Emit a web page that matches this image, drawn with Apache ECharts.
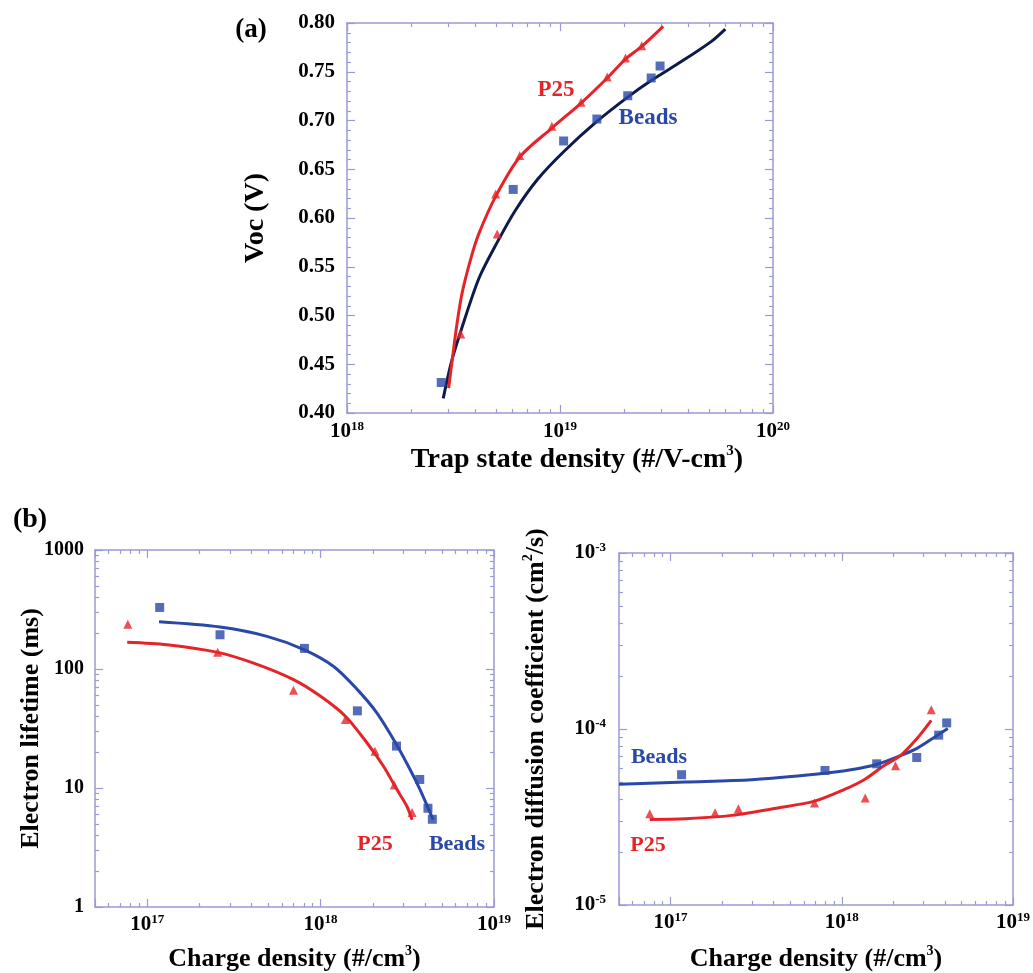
<!DOCTYPE html>
<html><head><meta charset="utf-8">
<script src="https://cdn.jsdelivr.net/npm/echarts@6/dist/echarts.min.js"></script>
<style>html,body{margin:0;padding:0;background:#fff}#c{width:1033px;height:973px}</style>
</head><body><div id="c"></div>
<script>
// ---------- (a) Voc vs trap state density ----------
const aTrapTickExp = [18, 19, 20];
const aVocTicks = [0.40, 0.45, 0.50, 0.55, 0.60, 0.65, 0.70, 0.75, 0.80];
const aP25Density = [3.42e18, 5.07e18, 4.99e18, 6.47e18, 9.16e18, 1.256e19, 1.667e19, 2.03e19, 2.42e19];
const aP25Voc = [0.481, 0.5835, 0.6246, 0.664, 0.694, 0.7186, 0.7446, 0.764, 0.7767];
const aP25FitDensity = [3.0e18, 3.12e18, 3.27e18, 3.47e18, 3.84e18, 4.16e18, 4.99e18, 6.47e18, 9.16e18, 1.256e19, 1.667e19, 2.03e19, 2.42e19, 3.05e19];
const aP25FitVoc = [0.4255, 0.4546, 0.4888, 0.523, 0.5606, 0.584, 0.6222, 0.6625, 0.6923, 0.7179, 0.7436, 0.763, 0.776, 0.7966];
const aBeadsDensity = [2.77e18, 6.03e18, 1.04e19, 1.49e19, 2.08e19, 2.68e19, 2.95e19];
const aBeadsVoc = [0.4313, 0.6293, 0.679, 0.7015, 0.7254, 0.7436, 0.7559];
const aBeadsFitDensity = [2.83e18, 3.08e18, 3.40e18, 4.16e18, 5.07e18, 6.20e18, 7.87e18, 1.04e19, 1.49e19, 2.08e19, 2.68e19, 3.73e19, 5.14e19, 5.97e19];
const aBeadsFitVoc = [0.415, 0.451, 0.482, 0.538, 0.575, 0.6085, 0.640, 0.668, 0.699, 0.724, 0.741, 0.7607, 0.7812, 0.7938];

// ---------- (b) left: electron lifetime vs charge density ----------
const bChargeTickExp = [17, 18, 19];
const bLifetimeTicks = [1, 10, 100, 1000];
const bBeadsCharge = [1.18e17, 2.63e17, 8.07e17, 1.63e18, 2.74e18, 3.73e18, 4.16e18, 4.41e18];
const bBeadsLifetime = [329, 194, 149, 44.5, 22.5, 11.8, 6.76, 5.46];
const bP25Charge = [7.73e16, 2.55e17, 6.98e17, 1.39e18, 2.06e18, 2.66e18, 3.37e18];
const bP25Lifetime = [238, 138, 66.2, 37.6, 20.4, 10.6, 6.21];
const bP25FitCharge = [7.67e16, 1.30e17, 2.55e17, 4.11e17, 6.98e17, 1.0e18, 1.39e18, 1.85e18, 2.30e18, 2.75e18, 3.14e18, 3.37e18];
const bP25FitLifetime = [168, 160, 138, 112, 81.5, 59, 40.1, 24.0, 15.3, 9.75, 7.06, 5.40];
const bBeadsFitCharge = [1.17e17, 2.63e17, 4.91e17, 8.07e17, 1.19e18, 1.63e18, 2.11e18, 2.74e18, 3.28e18, 3.74e18, 4.16e18, 4.46e18];
const bBeadsFitLifetime = [249, 225, 188, 145, 105, 67.1, 42.8, 23.2, 14.3, 9.75, 6.84, 5.40];

// ---------- (b) right: diffusion coefficient vs charge density ----------
const cDiffTickExp = [-5, -4, -3];
const cBeadsCharge = [1.16e17, 7.98e17, 1.60e18, 2.74e18, 3.68e18, 4.10e18];
const cBeadsDiff = [5.50e-5, 5.81e-5, 6.34e-5, 6.89e-5, 9.23e-5, 1.083e-4];
const cP25Charge = [7.56e16, 1.82e17, 2.49e17, 6.93e17, 1.37e18, 2.06e18, 3.33e18];
const cP25Diff = [3.30e-5, 3.34e-5, 3.52e-5, 3.80e-5, 4.06e-5, 6.18e-5, 1.288e-4];
const cP25FitCharge = [7.56e16, 1.22e17, 2.28e17, 4.24e17, 6.93e17, 1.03e18, 1.35e18, 1.76e18, 2.20e18, 2.75e18, 3.33e18];
const cP25FitDiff = [3.06e-5, 3.09e-5, 3.23e-5, 3.56e-5, 3.89e-5, 4.52e-5, 5.15e-5, 6.18e-5, 7.06e-5, 8.83e-5, 1.12e-4];
const cBeadsFitCharge = [5e16, 1.22e17, 2.97e17, 7.24e17, 1.13e18, 1.61e18, 2.20e18, 2.75e18, 3.59e18, 4.16e18];
const cBeadsFitDiff = [4.86e-5, 5.00e-5, 5.15e-5, 5.55e-5, 5.87e-5, 6.31e-5, 7.06e-5, 7.76e-5, 9.16e-5, 1.007e-4];

// ---------- styling ----------
const AX = '#9a9ad4';
const FONT = '"Liberation Serif", "Times New Roman", serif';
const RED = '#e5242a';
const BLUE = '#2a48a6';
const NAVY = '#0d1b4b';

const tickRich = {
  b: { fontFamily: FONT, fontWeight: 'bold', fontSize: 21, color: '#000', lineHeight: 24 },
  s: { fontFamily: FONT, fontWeight: 'bold', fontSize: 13, color: '#000', verticalAlign: 'top', lineHeight: 13 }
};
function nameRich(fs) {
  return {
    t: { fontFamily: FONT, fontWeight: 'bold', fontSize: fs, color: '#000', lineHeight: fs + 4 },
    s: { fontFamily: FONT, fontWeight: 'bold', fontSize: Math.round(fs * 0.55), color: '#000', verticalAlign: 'top', lineHeight: Math.round(fs * 0.55) }
  };
}
function exactExp(v) {
  const l = Math.log10(v), e = Math.round(l);
  return Math.abs(l - e) < 1e-6 ? e : null;
}
function powFmt(allowed) {
  return v => { const e = exactExp(v); return (e !== null && allowed.includes(e)) ? '{b|10}{s|' + e + '}' : ''; };
}
function minorLogValues(lo, hi) {
  const out = [];
  for (let n = Math.floor(lo); n < Math.ceil(hi); n++) {
    for (let k = 2; k <= 9; k++) {
      const v = n + Math.log10(k);
      if (v > lo + 1e-9 && v < hi - 1e-9) out.push(v);
    }
  }
  return out;
}
const lineStyleAx = { color: AX, width: 1.5 };
function logMain(kind, grid, pos, min, max, label) {
  const ax = {
    type: 'log', logBase: 10, gridIndex: grid, position: pos, min: min, max: max,
    axisLine: { show: true, onZero: false, lineStyle: lineStyleAx },
    axisTick: { show: true, inside: true, length: 8, lineStyle: { color: AX, width: 1.2 } },
    minorTick: { show: false },
    splitLine: { show: false },
    axisLabel: { show: false },
    nameMoveOverlap: false
  };
  if (label) Object.assign(ax, label);
  return ax;
}
function logMinor(grid, pos, min, max) {
  const lo = Math.log10(min), hi = Math.log10(max);
  return {
    type: 'value', gridIndex: grid, position: pos, min: lo, max: hi, silent: true,
    axisLine: { show: false, onZero: false },
    axisTick: { show: true, inside: true, length: 4, customValues: minorLogValues(lo, hi), lineStyle: { color: AX, width: 1.2 } },
    splitLine: { show: false },
    axisLabel: { show: false }
  };
}
function pairs(xs, ys) { return xs.map((x, i) => [x, ys[i]]); }

const xAxes = [], yAxes = [];
// grid 0: (a)
const A_XMIN = 1e18, A_XMAX = 1e20;
xAxes.push(logMain('x', 0, 'bottom', A_XMIN, A_XMAX, {
  axisLabel: { show: true, margin: 7, formatter: powFmt(aTrapTickExp), rich: tickRich },
  name: '{t|Trap state density (#/V-cm}{s|3}{t|)}', nameLocation: 'middle', nameGap: 31,
  nameTextStyle: { rich: nameRich(28), padding: [0, 0, 0, 34] }
}));
xAxes.push(logMinor(0, 'bottom', A_XMIN, A_XMAX));
xAxes.push(logMain('x', 0, 'top', A_XMIN, A_XMAX));
xAxes.push(logMinor(0, 'top', A_XMIN, A_XMAX));
function vocAxis(pos, withLabel) {
  return {
    type: 'value', gridIndex: 0, position: pos, min: 0.4, max: 0.8, interval: 0.05,
    axisLine: { show: true, onZero: false, lineStyle: lineStyleAx },
    axisTick: { show: true, inside: true, length: 8, lineStyle: { color: AX, width: 1.2 } },
    minorTick: { show: true, splitNumber: 5, length: 4, lineStyle: { color: AX, width: 1.2 } },
    splitLine: { show: false },
    axisLabel: withLabel ? {
      show: true, margin: 12, fontFamily: FONT, fontWeight: 'bold', fontSize: 21, color: '#000',
      formatter: v => aVocTicks.some(t => Math.abs(t - v) < 1e-9) ? v.toFixed(2) : ''
    } : { show: false },
    name: withLabel ? 'Voc (V)' : '', nameLocation: 'middle', nameGap: 76, nameMoveOverlap: false,
    nameTextStyle: { fontFamily: FONT, fontWeight: 'bold', fontSize: 28, color: '#000', lineHeight: 30 }
  };
}
yAxes.push(vocAxis('left', true));
yAxes.push(vocAxis('right', false));

// grid 1: (b) left
const B_XMIN = 5e16, B_XMAX = 1e19, B_YMIN = 1, B_YMAX = 1000;
xAxes.push(logMain('x', 1, 'bottom', B_XMIN, B_XMAX, {
  axisLabel: { show: true, margin: 6, formatter: powFmt(bChargeTickExp), rich: tickRich },
  name: '{t|Charge density (#/cm}{s|3}{t|)}', nameLocation: 'middle', nameGap: 37,
  nameTextStyle: { rich: nameRich(26) }
}));
xAxes.push(logMinor(1, 'bottom', B_XMIN, B_XMAX));
xAxes.push(logMain('x', 1, 'top', B_XMIN, B_XMAX));
xAxes.push(logMinor(1, 'top', B_XMIN, B_XMAX));
yAxes.push(logMain('y', 1, 'left', B_YMIN, B_YMAX, {
  axisLabel: { show: true, margin: 11, fontFamily: FONT, fontWeight: 'bold', fontSize: 20, color: '#000',
    formatter: v => { const e = exactExp(v); return (e !== null && bLifetimeTicks.includes(Math.pow(10, e))) ? String(Math.pow(10, e)) : ''; } },
  name: 'Electron lifetime (ms)', nameLocation: 'middle', nameGap: 49,
  nameTextStyle: { fontFamily: FONT, fontWeight: 'bold', fontSize: 26, color: '#000', lineHeight: 30 }
}));
yAxes.push(logMinor(1, 'left', B_YMIN, B_YMAX));
yAxes.push(logMain('y', 1, 'right', B_YMIN, B_YMAX));
yAxes.push(logMinor(1, 'right', B_YMIN, B_YMAX));

// grid 2: (b) right
const C_XMIN = 5e16, C_XMAX = 1e19, C_YMIN = 1e-5, C_YMAX = 1e-3;
xAxes.push(logMain('x', 2, 'bottom', C_XMIN, C_XMAX, {
  axisLabel: { show: true, margin: 6, formatter: powFmt(bChargeTickExp), rich: tickRich },
  name: '{t|Charge density (#/cm}{s|3}{t|)}', nameLocation: 'middle', nameGap: 39,
  nameTextStyle: { rich: nameRich(26) }
}));
xAxes.push(logMinor(2, 'bottom', C_XMIN, C_XMAX));
xAxes.push(logMain('x', 2, 'top', C_XMIN, C_XMAX));
xAxes.push(logMinor(2, 'top', C_XMIN, C_XMAX));
yAxes.push(logMain('y', 2, 'left', C_YMIN, C_YMAX, {
  axisLabel: { show: true, margin: 13, formatter: powFmt(cDiffTickExp), rich: tickRich },
  name: '{t|Electron diffusion coefficient (cm}{s|2}{t|/s)}', nameLocation: 'middle', nameGap: 68,
  nameTextStyle: { rich: nameRich(26) }
}));
yAxes.push(logMinor(2, 'left', C_YMIN, C_YMAX));
yAxes.push(logMain('y', 2, 'right', C_YMIN, C_YMAX));
yAxes.push(logMinor(2, 'right', C_YMIN, C_YMAX));

function fit(xi, yi, xs, ys, color) {
  return { type: 'line', xAxisIndex: xi, yAxisIndex: yi, data: pairs(xs, ys), smooth: 0.3,
    symbol: 'none', lineStyle: { color: color, width: 3 }, silent: true, z: 2 };
}
function pts(xi, yi, xs, ys, color, symbol, size) {
  return { type: 'scatter', xAxisIndex: xi, yAxisIndex: yi, data: pairs(xs, ys),
    symbol: symbol, symbolSize: size, itemStyle: { color: color }, silent: true, z: 3 };
}

const txt = (text, x, y, color, size) => ({
  type: 'text', x: x, y: y,
  style: { text: text, fill: color, font: 'bold ' + size + 'px ' + FONT, align: 'center', verticalAlign: 'middle' }
});

const option = {
  animation: false,
  backgroundColor: '#fff',
  grid: [
    { left: 347, top: 23, width: 426, height: 390, containLabel: false },
    { left: 95, top: 550, width: 399, height: 358, containLabel: false },
    { left: 619, top: 553, width: 398, height: 355, containLabel: false }
  ],
  xAxis: xAxes,
  yAxis: yAxes,
  series: [
    fit(0, 0, aBeadsFitDensity, aBeadsFitVoc, NAVY),
    fit(0, 0, aP25FitDensity, aP25FitVoc, RED),
    pts(0, 0, aBeadsDensity, aBeadsVoc, BLUE, 'rect', 9),
    pts(0, 0, aP25Density, aP25Voc, RED, 'triangle', 9),

    fit(4, 2, bBeadsFitCharge, bBeadsFitLifetime, BLUE),
    fit(4, 2, bP25FitCharge, bP25FitLifetime, RED),
    pts(4, 2, bBeadsCharge, bBeadsLifetime, BLUE, 'rect', 9),
    pts(4, 2, bP25Charge, bP25Lifetime, RED, 'triangle', 9),

    fit(8, 6, cBeadsFitCharge, cBeadsFitDiff, BLUE),
    fit(8, 6, cP25FitCharge, cP25FitDiff, RED),
    pts(8, 6, cBeadsCharge, cBeadsDiff, BLUE, 'rect', 9),
    pts(8, 6, cP25Charge, cP25Diff, RED, 'triangle', 9)
  ],
  graphic: [
    txt('(a)', 251, 30, '#000', 27),
    txt('(b)', 30, 520, '#000', 28),
    txt('P25', 556, 90, RED, 23),
    txt('Beads', 648, 118, BLUE, 23),
    txt('P25', 375, 844, RED, 22),
    txt('Beads', 457, 844, BLUE, 22),
    txt('Beads', 659, 757, BLUE, 22),
    txt('P25', 648, 845, RED, 22)
  ]
};
const chart = echarts.init(document.getElementById('c'), null, { renderer: 'canvas' });
chart.setOption(option);
</script>
</body></html>
